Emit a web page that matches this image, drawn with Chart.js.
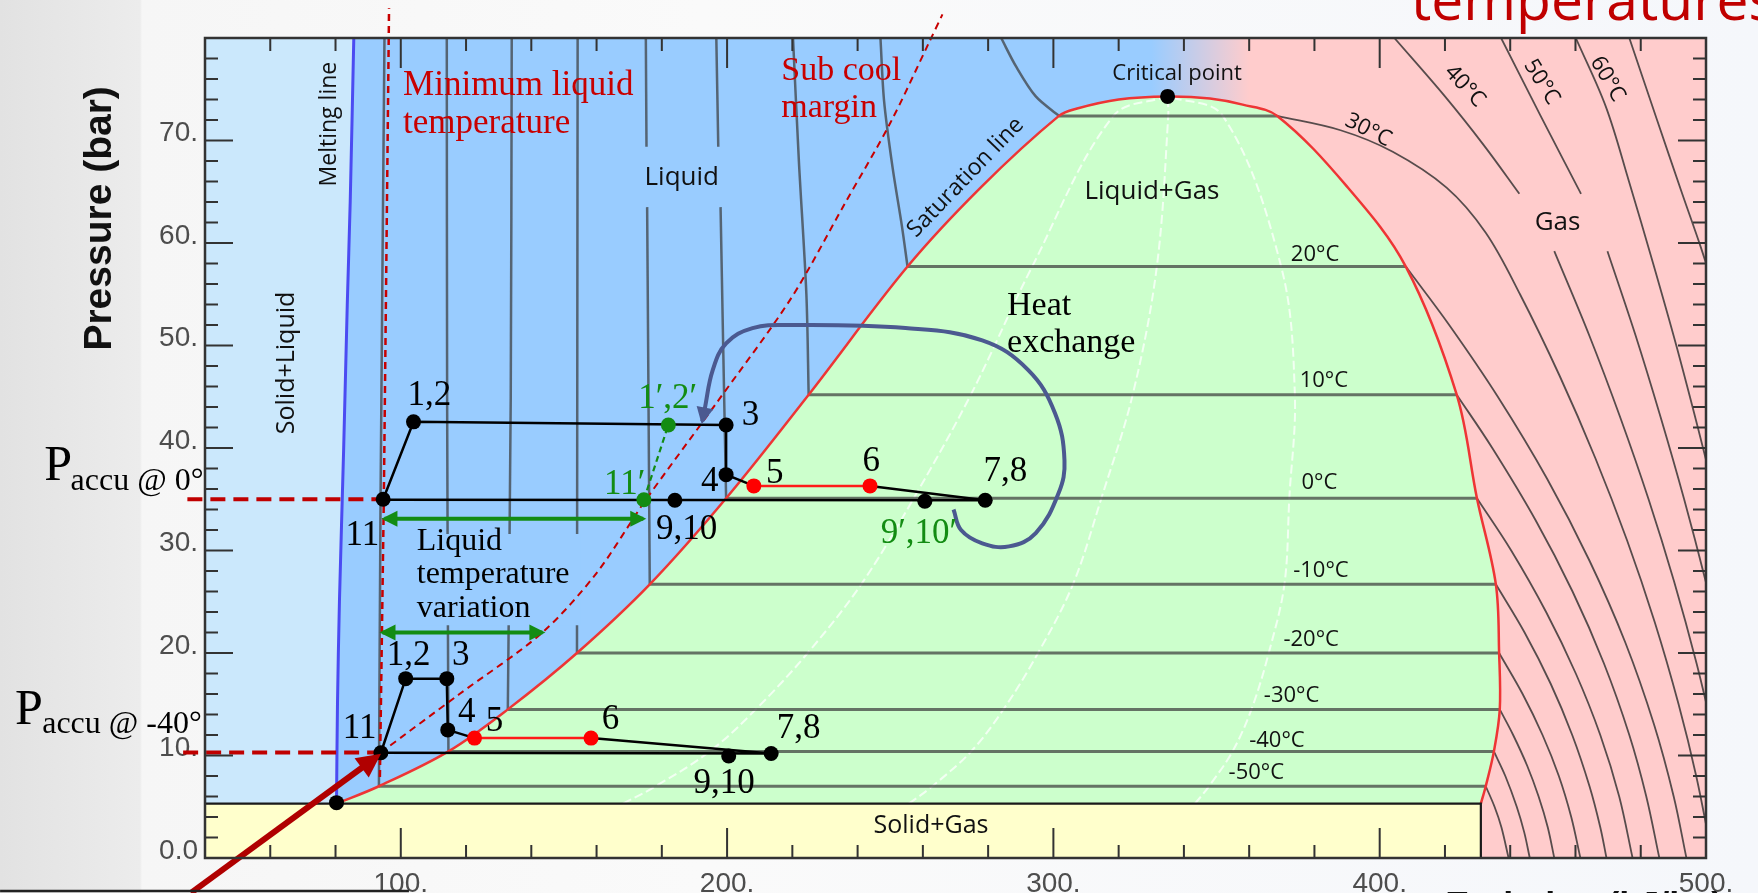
<!DOCTYPE html>
<html>
<head>
<meta charset="utf-8">
<script src="https://cdn.jsdelivr.net/npm/chart.js@4.4.1/dist/chart.umd.min.js"></script>
<style>
  html, body { margin: 0; padding: 0; }
  body {
    width: 1758px; height: 893px; overflow: hidden;
    background: linear-gradient(90deg, #e2e2e2 0px, #ececec 140px, #f6f6f6 142px, #fafafa 700px, #f5f7fb 1758px);
  }
  canvas { display: block; }
</style>
</head>
<body>
<canvas id="ph" width="1758" height="893"></canvas>
<script>
// Diagrama pressão-entalpia do CO2 com dois ciclos do acumulador
// x = entalpia (kJ/kg), y = pressão (bar)

const hMin = 40, hMax = 500;
const pMin = 0, pMax = 80;
const hLabelValues = [100, 200, 300, 400, 500];
const hLabelText = ['100.', '200.', '300.', '400.', '500.'];
const pLabelValues = [0, 10, 20, 30, 40, 50, 60, 70];
const pLabelText = ['0.0', '10.', '20.', '30.', '40.', '50.', '60.', '70.'];

// linha de fusão e curva de saturação [h, p]
const meltingLine = [[80.3, 5.3], [80.6, 15], [81.2, 25], [82.5, 40], [83.6, 54], [84.5, 64], [85.6, 80]];
const satLiquid = [[80.3, 5.3], [93.3, 7.0], [114.6, 10.4], [132.8, 14.5], [154, 20], [176.3, 26.7], [199.7, 35.1],
  [225, 45.2], [255.3, 57.7], [278, 65.5], [301.7, 72.4], [307, 73.1], [320, 74.0], [335, 74.3]];
const satVapor = [[348, 74.1], [358, 73.5], [368.6, 72.4], [390, 65.5], [408, 57.7], [423.6, 45.2], [429.8, 35.1],
  [435.6, 26.7], [436.6, 20], [436.8, 14.5], [435, 10.4], [432.5, 7.0], [431, 5.3]];
const tripleP = 5.3;
const solidGasEdge = 431;

// isotermas: patamar dentro da cúpula
const isoTemps = [-50, -40, -30, -20, -10, 0, 10, 20, 30];
const isoSatP = [7.0, 10.4, 14.5, 20, 26.7, 35.1, 45.2, 57.7, 72.4];
const isoSatHl = [93.3, 114.6, 132.8, 154, 176.3, 199.7, 225, 255.3, 301.7];
const isoSatHv = [432.5, 435, 436.8, 436.6, 435.6, 429.8, 423.6, 408, 368.6];

// isotermas na região de líquido (null = corte sob o rótulo "Liquid")
const liquidIso = [
  [[93.3, 7.0], [93.8, 35], [95, 80]],
  [[114.6, 10.4], [114.2, 45], [114.1, 80]],
  [[132.8, 14.5], [133.7, 45], [134, 80]],
  [[154, 20], [154.1, 50], [154.2, 80]],
  [[176.3, 26.7], [175.8, 50], [175.5, 63.5], null, [175.3, 69.4], [175.1, 80]],
  [[199.7, 35.1], [198.8, 50], [198, 63.5], null, [197.3, 69.4], [196.7, 80]],
  [[225, 45.2], [224.3, 55], [222, 68], [220.2, 80]],
  [[255.3, 57.7], [253.6, 61.6], [250.7, 67.4], [248.1, 73.9], [247, 80]],
  [[301.7, 72.4], [294.6, 74.3], [288.6, 77.2], [284, 80]]
];

// isotermas na região de gás, -50 °C a 70 °C (null = corte sob "Gas")
const gasTemps = [-50, -40, -30, -20, -10, 0, 10, 20, 30, 40, 50, 60, 70];
const gasIso = [
  [[432.5, 7], [435.2, 5], [437.3, 3], [439.5, 0]],
  [[435, 10.4], [438.5, 8], [442, 5], [444.3, 2.5], [446, 0]],
  [[436.8, 14.5], [440.9, 12], [445.2, 9], [448.7, 6], [451.5, 3], [453.5, 0]],
  [[436.6, 20], [443.8, 16], [449.9, 12], [454.9, 8], [458.7, 4], [461.5, 0]],
  [[435.6, 26.7], [444.4, 22], [452.4, 17], [459, 12], [464.3, 7], [467.6, 3], [469.5, 0]],
  [[429.8, 35.1], [440.3, 30], [451, 24], [460.1, 18], [467.6, 12], [473.4, 6], [477.5, 0]],
  [[423.6, 45.2], [434.5, 40], [447.7, 33], [459.1, 26], [468.7, 19], [476.5, 12], [481.7, 6], [485.7, 0]],
  [[408, 57.7], [421.3, 52], [436.2, 45], [451.3, 37], [464.3, 29], [475.3, 21], [484.1, 13], [490.1, 6], [494, 0]],
  [[368.6, 72.4], [388, 71], [404, 68.9], [420.5, 65.4], [432.5, 61], [443, 55], [455.2, 47], [466.1, 39],
    [475.8, 31], [484.3, 23], [491.6, 15], [497, 8], [502, 0]],
  [[404.5, 80], [420, 74.3], [432, 69.5], [442.8, 64.8], null, [453.5, 59.2], [464.2, 51], [473.7, 43],
    [482.4, 35], [490.2, 27], [497.1, 19], [503.1, 11]],
  [[437.2, 80], [449, 72.6], [461.7, 64.8], null, [469.8, 59.2], [478.4, 51], [486.1, 43], [493.3, 35],
    [499.9, 27], [505.9, 19]],
  [[460.1, 80], [469.3, 73.3], [476.4, 66], [483.8, 58], [490.9, 50], [497.5, 42], [503.8, 34]],
  [[476.5, 80], [485, 72], [492.5, 65], [498.5, 59.5], [503, 55]]
];

// linhas de título (x = 0.25, 0.5, 0.75)
const qualityP = [5.3, 7.0, 10.4, 14.5, 20, 26.7, 35.1, 45.2, 57.7, 72.4, 74.3];
const quality25 = [168.1, 178.1, 194.7, 208.8, 224.7, 241.1, 257.2, 274.7, 293.5, 318.4, 335];
const quality50 = [255.7, 262.9, 274.8, 284.7, 295.3, 306, 314.7, 324.3, 331.7, 335.2, 335];
const quality75 = [343.4, 347.7, 354.9, 360.7, 366, 370.8, 372.3, 374, 369.8, 351.9, 335];

// ciclo com acumulador a 0 °C
const cycleHigh = [[94.6, 35.0], [103.9, 42.55], [199.7, 42.25], [199.7, 37.4], [208.2, 36.3]];
const heatHigh = [[208.2, 36.3], [243.8, 36.3]];
const returnHigh = [[243.8, 36.3], [279.1, 34.9], [94.6, 34.95]];
// ciclo com acumulador a -40 °C
const cycleLow = [[93.9, 10.27], [101.5, 17.5], [114.1, 17.5], [114.4, 12.5], [122.6, 11.7]];
const heatLow = [[122.6, 11.7], [158.3, 11.7]];
const returnLow = [[158.3, 11.7], [213.5, 10.2], [93.9, 10.27]];

const blackDots = [[94.6, 35.0], [103.9, 42.55], [199.7, 42.25], [199.7, 37.4], [279.1, 34.9], [260.6, 34.8],
  [184, 34.9], [93.9, 10.27], [101.5, 17.5], [114.1, 17.5], [114.4, 12.5], [213.5, 10.2], [200.5, 9.95],
  [80.3, 5.4], [335, 74.3]];
const redDots = [[208.2, 36.3], [243.8, 36.3], [122.6, 11.7], [158.3, 11.7]];
const greenDots = [[182, 42.25], [174.5, 34.95]];
const greenDashed = [[174.5, 34.95], [182, 42.25]];

// margens e pressões do acumulador
const minLiquidT = [[93.6, 7.9], [94.8, 35], [96.4, 82.9]];
const subcoolMargin = [[93.9, 10.3], [118, 16.0], [143.4, 22.0], [160, 27.8], [175, 34.9], [197, 44.5],
  [219.6, 54.6], [236, 63.8], [250, 71.7], [261.8, 79.5], [266, 82.3]];
const paccuHigh = [[34.6, 35.0], [94.6, 35.0]];
const paccuLow = [[33.3, 10.3], [93.9, 10.3]];
const tempSpanHigh = [[95, 33.1], [174.3, 33.1]];
const tempSpanLow = [[94.4, 22.0], [143.4, 22.0]];
const heatExchange = [[269.4, 34.0], [271.7, 32.0], [278.2, 30.7], [286.4, 30.4], [294.6, 31.7], [301.6, 35.6],
  [303.4, 38.8], [300.5, 43.4], [292.3, 47.6], [278.2, 50.5], [254.7, 51.7], [219.6, 52.0], [207.8, 51.7],
  [199.7, 50.2], [195.6, 47.6], [193.2, 43.9], [192.4, 42.6]];
const pointerArrow = [[35.7, -3.4], [93.2, 10.0]];

// ---- cores ----
const C = {
  solidLiquid: '#cbe8fc', liquid: '#99ccff', dome: '#ccffcc', gas: '#ffcccc', solidGas: '#ffffcc',
  melting: '#4b4bf2', sat: '#ee3535', iso: 'rgba(55,55,55,0.7)', gasIso: 'rgba(40,40,40,0.78)',
  red: '#c80000', green: '#138c13', heat: '#4b5990'
};

// ---- rótulos (posição em coordenadas do gráfico) ----
const numberLabels = [
  ['1,2', 108.8, 45.1], ['3', 207.2, 43.1], ['4', 194.7, 36.7], ['5', 214.6, 37.5], ['6', 244.2, 38.7],
  ['7,8', 285.3, 37.7], ['9,10', 187.6, 32.0], ['11', 88.2, 31.4],
  ['1,2', 102.4, 19.7], ['3', 118.4, 19.7], ['4', 120.2, 14.2], ['5', 128.7, 13.3], ['6', 164.3, 13.5],
  ['7,8', 221.9, 12.6], ['9,10', 199.1, 7.2], ['11', 87.4, 12.6]
];
const greenLabels = [['1′,2′', 181.8, 44.8], ['11′', 168.6, 36.4], ['9′,10′', 258.8, 31.6]];
const sansLabels = [
  ['Liquid', 186.1, 66.4, 26, 0], ['Liquid+Gas', 330.2, 65.0, 26, 0], ['Gas', 454.5, 62.0, 26, 0],
  ['Critical point', 337.9, 76.5, 22, 0], ['Solid+Gas', 262.5, 3.1, 25, 0],
  ['Solid+Liquid', 65.2, 48.3, 25, -90], ['Melting line', 78.2, 71.6, 23, -90],
  ['Saturation line', 273.1, 66.4, 23, -46],
  ['20°C', 380.2, 58.9, 22, 0], ['10°C', 382.9, 46.55, 22, 0], ['0°C', 381.5, 36.6, 22, 0],
  ['-10°C', 382, 28.0, 22, 0], ['-20°C', 379, 21.3, 22, 0], ['-30°C', 373, 15.8, 22, 0],
  ['-40°C', 368.5, 11.4, 22, 0], ['-50°C', 362.2, 8.3, 22, 0],
  ['30°C', 396.5, 71.0, 22, 27], ['40°C', 426.1, 75.3, 22, 47], ['50°C', 449.6, 75.7, 22, 58],
  ['60°C', 469.8, 76.0, 22, 60]
];
const noteBox = [[103.8, 22.7], [103.8, 31.6], [155, 31.6], [155, 22.7]];

const SERIF = '"Liberation Serif", "Times New Roman", serif';
const SANS = '"Open Sans", "Noto Sans", sans-serif';

// ---- datasets ----
const toXY = arr => arr.map(a => (a ? { x: a[0], y: a[1] } : { x: null, y: null }));
const zipQ = hs => hs.map((h, i) => [h, qualityP[i]]);
const datasets = [];
function line(data, color, width, extra) {
  datasets.push(Object.assign({
    data: toXY(data), borderColor: color, borderWidth: width, pointRadius: 0,
    fill: false, tension: 0
  }, extra || {}));
}
function region(data, color, extra) {
  line(data, 'rgba(0,0,0,0)', 1, Object.assign({ fill: 'shape', backgroundColor: color }, extra || {}));
}
function dots(data, color, r) {
  datasets.push({
    data: toXY(data), showLine: false, pointRadius: r, pointBackgroundColor: color,
    pointBorderColor: color, pointBorderWidth: 0, borderColor: color
  });
}

region([[hMin, tripleP], [hMin, pMax], [85.6, pMax]].concat(meltingLine.slice().reverse()), C.solidLiquid);
region(satLiquid.concat(satVapor), C.dome, { tension: 0.35 });
region([[hMin, pMin], [hMin, tripleP], [solidGasEdge, tripleP], [solidGasEdge, pMin]], C.solidGas);

[quality25, quality50, quality75].forEach(q =>
  line(zipQ(q), 'rgba(255,255,255,0.75)', 2, { tension: 0.35, borderDash: [9, 4] }));

isoTemps.forEach((t, i) =>
  line([[isoSatHl[i], isoSatP[i]], [isoSatHv[i], isoSatP[i]]], C.iso, 3));
liquidIso.forEach(d => line(d, C.iso, 2.5, { tension: 0.3 }));
gasIso.forEach(d => line(d, C.gasIso, 1.8, { tension: 0.35 }));

line(meltingLine, C.melting, 3, { tension: 0.3 });
line(satLiquid.concat(satVapor), C.sat, 2.5, { tension: 0.35 });
line([[hMin, tripleP], [solidGasEdge, tripleP], [solidGasEdge, pMin]], '#1a1a1a', 2.2);

region(noteBox, C.liquid);

line(subcoolMargin, C.red, 2, { tension: 0.3, borderDash: [7, 5], clip: false, capBezierPoints: false });
line(minLiquidT, C.red, 2.5, { borderDash: [7, 5], clip: false });

line(cycleHigh, '#000', 2.5);
line(returnHigh, '#000', 2.5);
line(heatHigh, '#ff1a1a', 2.5);
line(cycleLow, '#000', 2.5);
line(returnLow, '#000', 2.5);
line(heatLow, '#ff1a1a', 2.5);

line(greenDashed, C.green, 2.2, { borderDash: [6, 4] });
line(tempSpanHigh, C.green, 4, { arrowHead: 'both', arrowSize: 16 });
line(tempSpanLow, C.green, 4, { arrowHead: 'both', arrowSize: 16 });
line(heatExchange, C.heat, 4, { tension: 0.4, arrowHead: 'end', arrowSize: 17 });

line(paccuHigh, '#c00000', 4, { borderDash: [15, 8], clip: false });
line(paccuLow, '#c00000', 4, { borderDash: [15, 8], clip: false });
line(pointerArrow, '#b00000', 6, { clip: false, arrowHead: 'end', arrowSize: 24 });

dots(blackDots, '#000', 7.5);
dots(redDots, '#ff0000', 7.5);
dots(greenDots, C.green, 7.5);

datasets.forEach((d, i) => { d.order = datasets.length - i; });

// ---- plugins ----
function text(ctx, s, x, y, font, color, align, base, rot) {
  ctx.save();
  ctx.translate(x, y);
  if (rot) ctx.rotate(rot * Math.PI / 180);
  ctx.font = font;
  ctx.fillStyle = color;
  ctx.textAlign = align || 'center';
  ctx.textBaseline = base || 'middle';
  ctx.fillText(s, 0, 0);
  ctx.restore();
}

function head(ctx, from, to, size, color) {
  const ang = Math.atan2(to.y - from.y, to.x - from.x);
  ctx.save();
  ctx.translate(to.x + Math.cos(ang) * 3, to.y + Math.sin(ang) * 3);
  ctx.rotate(ang);
  ctx.fillStyle = color;
  ctx.beginPath();
  ctx.moveTo(0, 0);
  ctx.lineTo(-size, size * 0.5);
  ctx.lineTo(-size, -size * 0.5);
  ctx.closePath();
  ctx.fill();
  ctx.restore();
}

const areaBackground = {
  id: 'areaBackground',
  beforeDatasetsDraw(chart) {
    const { ctx, chartArea: a, scales: { x } } = chart;
    const g = ctx.createLinearGradient(x.getPixelForValue(330), 0, x.getPixelForValue(360), 0);
    g.addColorStop(0, C.liquid);
    g.addColorStop(1, C.gas);
    ctx.save();
    ctx.fillStyle = g;
    ctx.fillRect(a.left, a.top, a.width, a.height);
    ctx.restore();
  }
};

const overlay = {
  id: 'overlay',
  afterDatasetsDraw(chart) {
    const { ctx, chartArea: a, scales: { x, y } } = chart;
    const X = v => x.getPixelForValue(v);
    const Y = v => y.getPixelForValue(v);

    // pontas de seta
    chart.data.datasets.forEach((d, i) => {
      if (!d.arrowHead) return;
      const pts = chart.getDatasetMeta(i).data;
      const n = pts.length;
      head(ctx, pts[n - 2], pts[n - 1], d.arrowSize, d.borderColor);
      if (d.arrowHead === 'both') head(ctx, pts[1], pts[0], d.arrowSize, d.borderColor);
    });

    // moldura e marcas para dentro
    ctx.save();
    ctx.strokeStyle = '#333';
    ctx.lineWidth = 2;
    ctx.beginPath();
    x.ticks.forEach(t => {
      const px = X(t.value);
      const len = t.value % 100 === 0 ? 30 : 13;
      ctx.moveTo(px, a.bottom); ctx.lineTo(px, a.bottom - len);
      ctx.moveTo(px, a.top); ctx.lineTo(px, a.top + len);
    });
    y.ticks.forEach(t => {
      const py = Y(t.value);
      const len = t.value % 10 === 0 ? 28 : 13;
      ctx.moveTo(a.left, py); ctx.lineTo(a.left + len, py);
      ctx.moveTo(a.right, py); ctx.lineTo(a.right - len, py);
    });
    ctx.stroke();
    ctx.lineWidth = 2.5;
    ctx.strokeRect(a.left, a.top, a.width, a.height);
    ctx.restore();

    // textos
    numberLabels.forEach(([s, h, p]) => text(ctx, s, X(h), Y(p), '35px ' + SERIF, '#000'));
    greenLabels.forEach(([s, h, p]) => text(ctx, s, X(h), Y(p), '35px ' + SERIF, C.green));
    sansLabels.forEach(([s, h, p, size, rot]) => text(ctx, s, X(h), Y(p), size + 'px ' + SANS, '#111', 'center', 'middle', rot));

    text(ctx, 'Minimum liquid', X(100.7), Y(74.44), '35px ' + SERIF, C.red, 'left', 'alphabetic');
    text(ctx, 'temperature', X(100.7), Y(70.7), '35px ' + SERIF, C.red, 'left', 'alphabetic');
    text(ctx, 'Sub cool', X(216.6), Y(75.9), '34px ' + SERIF, C.red, 'left', 'alphabetic');
    text(ctx, 'margin', X(216.6), Y(72.3), '34px ' + SERIF, C.red, 'left', 'alphabetic');
    text(ctx, 'Heat', X(285.8), Y(53.0), '34px ' + SERIF, '#000', 'left', 'alphabetic');
    text(ctx, 'exchange', X(285.8), Y(49.4), '34px ' + SERIF, '#000', 'left', 'alphabetic');
    text(ctx, 'Liquid', X(104.9), Y(30.05), '32px ' + SERIF, '#000', 'left', 'alphabetic');
    text(ctx, 'temperature', X(104.9), Y(26.8), '32px ' + SERIF, '#000', 'left', 'alphabetic');
    text(ctx, 'variation', X(104.9), Y(23.55), '32px ' + SERIF, '#000', 'left', 'alphabetic');

    // P accu
    text(ctx, 'P', X(-9.3), Y(36.9), '50px ' + SERIF, '#000', 'left', 'alphabetic');
    text(ctx, 'accu @ 0°', X(-1.2), Y(35.9), '32px ' + SERIF, '#000', 'left', 'alphabetic');
    text(ctx, 'P', X(-18.2), Y(13.1), '50px ' + SERIF, '#000', 'left', 'alphabetic');
    text(ctx, 'accu @ -40°', X(-9.9), Y(12.15), '32px ' + SERIF, '#000', 'left', 'alphabetic');

    // títulos dos eixos e do slide
    text(ctx, 'Pressure (bar)', X(7.84), Y(62.4), 'bold 39px "Liberation Sans", Arial, sans-serif', '#111', 'center', 'middle', -90);
    text(ctx, 'Enthalpy (kJ/kg)', X(420.1), Y(-5.9), 'bold 36px "Liberation Sans", Arial, sans-serif', '#111', 'left', 'alphabetic');
    text(ctx, 'temperatures', X(409.6), Y(81.75), '57px ' + SANS, '#c00000', 'left', 'alphabetic');

    // linha preta da caixa inferior esquerda
    ctx.save();
    ctx.strokeStyle = '#222';
    ctx.lineWidth = 2.5;
    ctx.beginPath();
    ctx.moveTo(X(-22.8), Y(-3.22));
    ctx.lineTo(X(102.5), Y(-3.22));
    ctx.stroke();
    ctx.restore();
  }
};

new Chart(document.getElementById('ph'), {
  type: 'line',
  data: { datasets },
  options: {
    responsive: false,
    animation: false,
    devicePixelRatio: 1,
    events: [],
    layout: { padding: { top: 38, right: 52, left: 0, bottom: 0 } },
    plugins: { legend: { display: false }, tooltip: { enabled: false } },
    scales: {
      x: {
        type: 'linear', min: hMin, max: hMax,
        grid: { display: false, drawTicks: false }, border: { display: false },
        ticks: {
          stepSize: 20, autoSkip: false, maxRotation: 0, padding: 9, color: '#4d4d4d',
          font: { family: '"Liberation Sans", Arial, sans-serif', size: 28 },
          callback: v => { const k = hLabelValues.indexOf(v); return k >= 0 ? hLabelText[k] : ''; }
        },
        afterFit: s => { s.height = 35; }
      },
      y: {
        type: 'linear', min: pMin, max: pMax,
        grid: { display: false, drawTicks: false }, border: { display: false },
        ticks: {
          stepSize: 2, autoSkip: false, padding: 7, labelOffset: -7, color: '#4d4d4d',
          font: { family: '"Liberation Sans", Arial, sans-serif', size: 28 },
          callback: v => { const k = pLabelValues.indexOf(v); return k >= 0 ? pLabelText[k] : ''; }
        },
        afterFit: s => { s.width = 205; }
      }
    }
  },
  plugins: [areaBackground, overlay]
});
</script>
</body>
</html>
